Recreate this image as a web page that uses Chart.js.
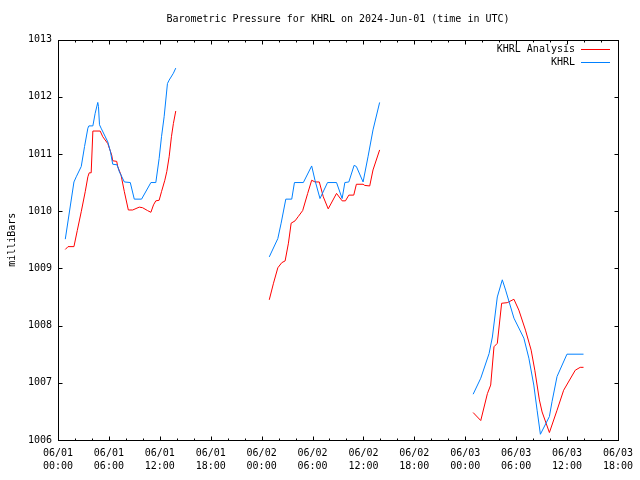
<!DOCTYPE html>
<html>
<head>
<meta charset="utf-8">
<script src="https://cdn.jsdelivr.net/npm/chart.js@4"></script>
<style>
  html, body { margin: 0; padding: 0; background: #fff; }
  #wrap { width: 640px; height: 480px; }
</style>
</head>
<body>
<div id="wrap"><canvas id="pressureChart" width="640" height="480"></canvas></div>
<script>
// hours since 2024-06-01 00:00 UTC, null value = gap in the record
var analysisHours = [0.86, 1.18, 1.88, 2.27, 2.74, 3.21, 3.52, 3.68, 3.91, 4.11, 4.97, 5.28, 5.87, 6.33, 6.45, 6.92, 7.04, 7.43, 7.82, 8.29, 8.80, 9.58, 9.97, 10.55, 10.95, 11.26, 11.53, 11.92, 12.20, 12.59, 12.82, 13.10, 13.37, 13.60, 13.88,
    20,
    24.90, 25.40, 25.91, 26.38, 26.77, 27.16, 27.48, 27.94, 28.34, 28.84, 29.43, 29.90, 30.29, 30.80, 31.27, 31.85, 32.83, 33.49, 33.88, 34.28, 34.86, 35.17, 35.96, 36.15, 36.74, 37.13, 37.91,
    44,
    48.93, 49.83, 50.61, 51.00, 51.39, 51.78, 52.29, 52.95, 53.74, 54.32, 55.10, 55.77, 56.20, 56.74, 57.06, 57.92, 58.82, 59.60, 60.97, 61.55, 61.94];
var analysisValues = [1009.33, 1009.38, 1009.38, 1009.66, 1009.99, 1010.34, 1010.60, 1010.67, 1010.67, 1011.40, 1011.40, 1011.30, 1011.18, 1010.98, 1010.88, 1010.87, 1010.78, 1010.63, 1010.34, 1010.02, 1010.02, 1010.07, 1010.06, 1010.01, 1009.98, 1010.11, 1010.18, 1010.19, 1010.34, 1010.54, 1010.69, 1010.95, 1011.30, 1011.53, 1011.75,
    null,
    1008.45, 1008.74, 1009.01, 1009.10, 1009.13, 1009.44, 1009.79, 1009.83, 1009.91, 1010.01, 1010.31, 1010.54, 1010.51, 1010.51, 1010.25, 1010.04, 1010.31, 1010.18, 1010.18, 1010.28, 1010.28, 1010.47, 1010.47, 1010.45, 1010.44, 1010.72, 1011.07,
    null,
    1006.48, 1006.34, 1006.81, 1006.96, 1007.63, 1007.69, 1008.39, 1008.40, 1008.46, 1008.27, 1007.92, 1007.57, 1007.22, 1006.70, 1006.49, 1006.13, 1006.52, 1006.87, 1007.22, 1007.27, 1007.27];

var khrlHours = [0.86, 1.88, 2.15, 2.74, 3.13, 3.52, 3.64, 4.11, 4.38, 4.69, 4.77, 4.89, 5.08, 5.87, 6.18, 6.45, 6.96, 7.23, 7.82, 8.52, 8.99, 9.85, 10.95, 11.53, 11.92, 12.20, 12.51, 12.90, 13.10, 13.60, 13.88,
    20,
    24.90, 25.91, 26.30, 26.85, 27.55, 27.87, 28.92, 29.90, 30.29, 30.88, 31.77, 32.83, 33.49, 33.81, 34.28, 34.90, 35.17, 35.96, 36.54, 37.13, 37.91,
    44,
    48.93, 49.83, 50.81, 51.20, 51.78, 52.37, 52.76, 53.74, 54.91, 55.50, 56.08, 56.47, 56.86, 57.92, 58.23, 58.82, 59.99, 61.94];
var khrlValues = [1009.51, 1010.51, 1010.60, 1010.78, 1011.13, 1011.45, 1011.49, 1011.49, 1011.71, 1011.90, 1011.83, 1011.51, 1011.45, 1011.21, 1011.04, 1010.82, 1010.81, 1010.69, 1010.51, 1010.50, 1010.21, 1010.21, 1010.50, 1010.50, 1010.92, 1011.30, 1011.65, 1012.23, 1012.29, 1012.41, 1012.50,
    null,
    1009.20, 1009.52, 1009.79, 1010.21, 1010.21, 1010.50, 1010.50, 1010.79, 1010.54, 1010.22, 1010.50, 1010.50, 1010.22, 1010.50, 1010.51, 1010.80, 1010.78, 1010.51, 1010.95, 1011.42, 1011.90,
    null,
    1006.80, 1007.08, 1007.51, 1007.80, 1008.50, 1008.80, 1008.62, 1008.13, 1007.78, 1007.43, 1006.96, 1006.52, 1006.10, 1006.41, 1006.67, 1007.11, 1007.50, 1007.50];

var xTickLabels = [['06/01', '00:00'], ['06/01', '06:00'], ['06/01', '12:00'], ['06/01', '18:00'],
    ['06/02', '00:00'], ['06/02', '06:00'], ['06/02', '12:00'], ['06/02', '18:00'],
    ['06/03', '00:00'], ['06/03', '06:00'], ['06/03', '12:00'], ['06/03', '18:00']];

var chartTitle = 'Barometric Pressure for KHRL on 2024-Jun-01 (time in UTC)';
var FONT = '"DejaVu Sans Mono", "Liberation Mono", monospace';

function toPoints(hours, values) {
    return hours.map(function (h, i) { return { x: h, y: values[i] }; });
}

// gnuplot style title, frame, inward ticks and legend inside the plot
var gnuplotFrame = {
    id: 'gnuplotFrame',
    afterDraw: function (chart) {
        var ctx = chart.ctx;
        var a = chart.chartArea;
        var xs = chart.scales.x, ys = chart.scales.y;
        var L = Math.round(a.left) + 0.5, R = Math.round(a.right) + 0.5;
        var T = Math.round(a.top) + 0.5, B = Math.round(a.bottom) + 0.5;
        ctx.save();
        ctx.strokeStyle = '#000';
        ctx.lineWidth = 1;
        ctx.strokeRect(L, T, R - L, B - T);
        ctx.beginPath();
        for (var h = xs.min; h <= xs.max; h += 2) {
            var px = Math.round(xs.getPixelForValue(h)) + 0.5;
            var len = (h % 6 === 0) ? 4 : 2;
            ctx.moveTo(px, B); ctx.lineTo(px, B - len);
            ctx.moveTo(px, T); ctx.lineTo(px, T + len);
        }
        ys.ticks.forEach(function (t) {
            var py = Math.round(ys.getPixelForValue(t.value)) + 0.5;
            ctx.moveTo(L, py); ctx.lineTo(L + 4, py);
            ctx.moveTo(R, py); ctx.lineTo(R - 4, py);
        });
        ctx.stroke();

        ctx.font = '10px ' + FONT;
        ctx.fillStyle = '#000';
        ctx.textBaseline = 'middle';
        ctx.textAlign = 'center';
        ctx.fillText(chartTitle, (a.left + a.right) / 2, 19);

        ctx.textAlign = 'right';
        var legendOrder = [1, 0];
        legendOrder.forEach(function (idx, row) {
            var ds = chart.data.datasets[idx];
            var y = 49.5 + row * 13;
            ctx.fillText(ds.label, 575, y);
            ctx.beginPath();
            ctx.strokeStyle = ds.borderColor;
            ctx.moveTo(581, y); ctx.lineTo(610, y);
            ctx.stroke();
        });
        ctx.restore();
    }
};

var ctx = document.getElementById('pressureChart').getContext('2d');
new Chart(ctx, {
    type: 'line',
    data: {
        datasets: [{
            label: 'KHRL',
            data: toPoints(khrlHours, khrlValues),
            borderColor: 'rgb(0,128,255)',
            borderWidth: 1,
            pointRadius: 0,
            tension: 0,
            spanGaps: false,
            order: 1
        }, {
            label: 'KHRL Analysis',
            data: toPoints(analysisHours, analysisValues),
            borderColor: 'rgb(255,0,0)',
            borderWidth: 1,
            pointRadius: 0,
            tension: 0,
            spanGaps: false,
            order: 2
        }]
    },
    options: {
        responsive: false,
        animation: false,
        events: [],
        layout: { padding: { top: 39.5, right: 19, bottom: 0, left: 0 } },
        plugins: {
            legend: { display: false },
            tooltip: { enabled: false },
            title: { display: false }
        },
        scales: {
            x: {
                type: 'linear',
                min: 0,
                max: 66,
                grid: { display: false, drawTicks: false },
                border: { display: false },
                ticks: {
                    stepSize: 6,
                    autoSkip: false,
                    maxRotation: 0,
                    padding: 7,
                    color: '#000',
                    font: { family: FONT, size: 10, lineHeight: 1.3 },
                    callback: function (value) { return xTickLabels[Math.round(value / 6)]; }
                },
                afterFit: function (scale) { scale.height = 40; }
            },
            y: {
                min: 1006,
                max: 1013,
                grid: { display: false, drawTicks: false },
                border: { display: false },
                ticks: {
                    stepSize: 1,
                    padding: 6,
                    color: '#000',
                    font: { family: FONT, size: 10 },
                    callback: function (value) { return String(value); }
                },
                title: {
                    display: true,
                    text: 'milliBars',
                    color: '#000',
                    font: { family: FONT, size: 10 },
                    padding: { top: 6, bottom: 0 }
                },
                afterFit: function (scale) { scale.width = 58; }
            }
        }
    },
    plugins: [gnuplotFrame]
});
</script>
</body>
</html>
